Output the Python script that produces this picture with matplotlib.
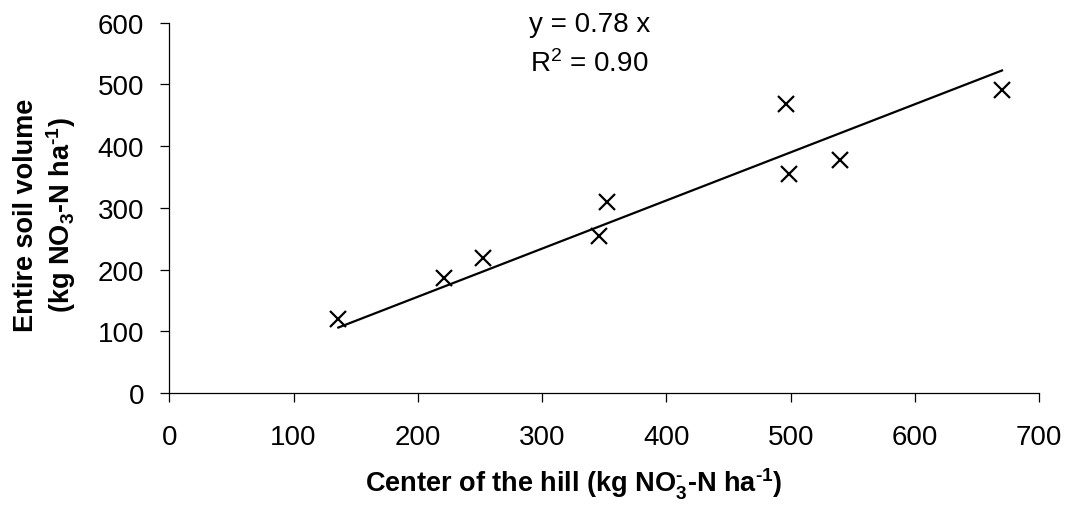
import matplotlib
matplotlib.use("Agg")
import matplotlib.pyplot as plt
import numpy as np

plt.rcParams['font.family'] = ['Liberation Sans', 'DejaVu Sans']
plt.rcParams['mathtext.fontset'] = 'custom'
plt.rcParams['mathtext.rm'] = 'Liberation Sans'
plt.rcParams['mathtext.bf'] = 'Liberation Sans:bold'
plt.rcParams['mathtext.it'] = 'Liberation Sans:italic'

# data
center_hill = [136, 221, 252, 346, 352, 496, 499, 540, 670]
entire_soil = [120, 187, 218, 255, 309, 469, 355, 378, 491]
slope = 0.78
r_squared = 0.90

xticks = [0, 100, 200, 300, 400, 500, 600, 700]
yticks = [0, 100, 200, 300, 400, 500, 600]

W, H = 1068, 506
fig = plt.figure(figsize=(W / 100, H / 100), dpi=100)
ax = fig.add_axes([169.3 / W, 1 - 394 / H, 870 / W, 370.3 / H])

ax.plot(center_hill, entire_soil, linestyle='none', marker='x', color='black',
        markersize=11, markeredgewidth=1.6)
fit_x = np.array([min(center_hill), max(center_hill)])
ax.plot(fit_x, slope * fit_x, color='black', linewidth=1.6)

ax.set_xlim(0, 700)
ax.set_ylim(0, 600)
ax.set_xticks(xticks)
ax.set_yticks(yticks)
ax.spines['top'].set_visible(False)
ax.spines['right'].set_visible(False)
for s in ['left', 'bottom']:
    ax.spines[s].set_linewidth(0.9)
ax.tick_params(axis='both', direction='out', length=6.5, width=0.9, labelsize=20)
ax.tick_params(axis='x', pad=16)
ax.tick_params(axis='y', pad=11.5)

# axis titles
hy = '\u2010'
fig.text(574 / W, 1 - 493 / H,
         r'Center of the hill (kg NO$_\mathbf{3}^\mathbf{' + hy + r'}$-N ha$^\mathbf{' + hy + r'1}$)',
         fontsize=19.5, fontweight='bold', ha='center', va='baseline')
fig.text(26 / W, 1 - 215.5 / H, 'Entire soil volume',
         fontsize=19.5, fontweight='bold', rotation=90, ha='center', va='center')
fig.text(61 / W, 1 - 215.5 / H,
         r'(kg NO$_\mathbf{3}$-N ha$^\mathbf{' + hy + r'1}$)',
         fontsize=19.5, fontweight='bold', rotation=90, ha='center', va='center')

# regression equation
fig.text(590 / W, 1 - 31.7 / H, 'y = %.2f x' % slope,
         fontsize=20, ha='center', va='baseline')
fig.text(589 / W, 1 - 71.7 / H, r'R$^\mathrm{2}$ = %.2f' % r_squared,
         fontsize=20, ha='center', va='baseline')

fig.savefig('out.png', dpi=100)
